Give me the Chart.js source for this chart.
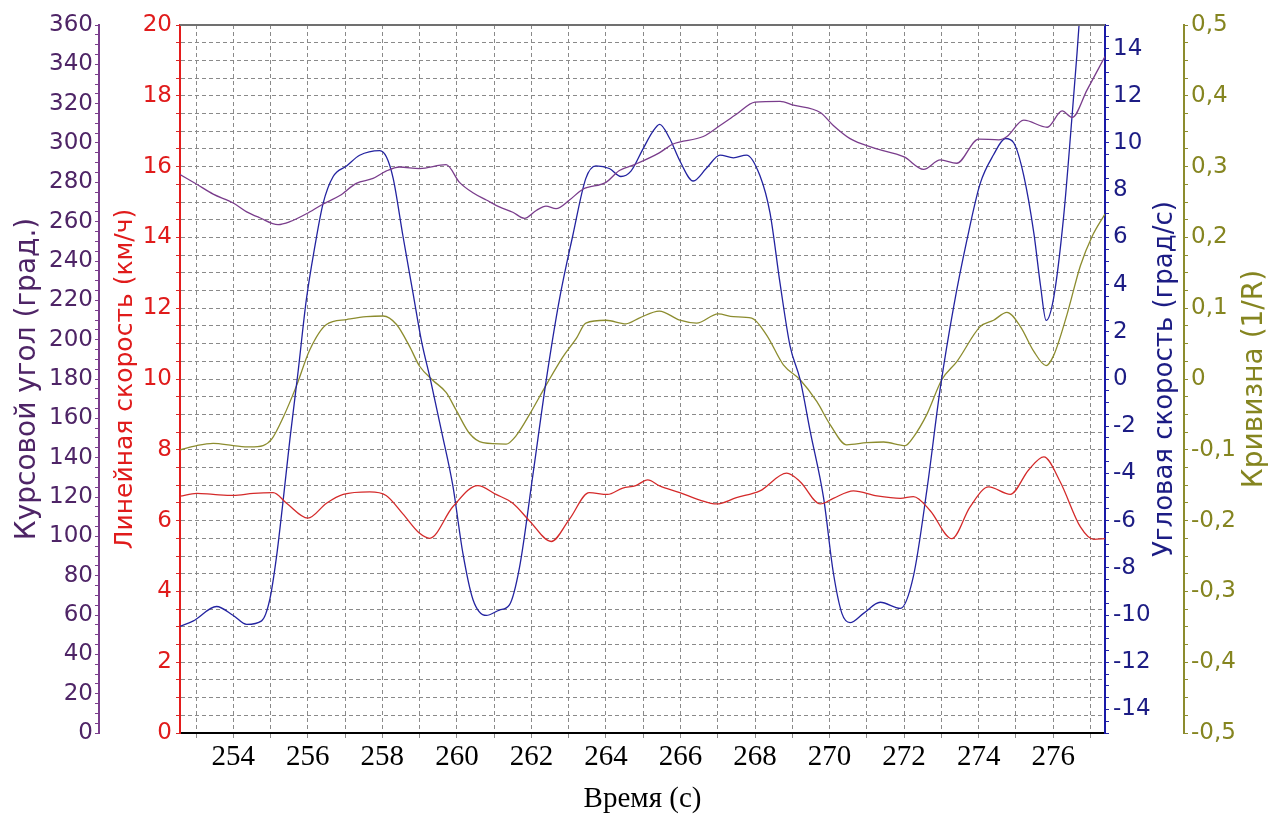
<!DOCTYPE html>
<html>
<head>
<meta charset="utf-8">
<script src="https://cdn.jsdelivr.net/npm/chart.js@4"></script>
<style>
  html,body{margin:0;padding:0;background:#fff}
  #wrap{width:1275px;height:814px}
</style>
</head>
<body>
<div id="wrap"><canvas id="ch"></canvas></div>
<script>
// ---- data ----
const tCourse=[252.57,253.02,253.46,254.0,254.36,254.71,255.2,255.52,255.96,256.41,256.86,257.3,257.75,258.1,258.46,259.0,259.71,260.07,260.43,260.79,261.14,261.5,261.81,262.13,262.39,262.66,263.02,263.38,264.0,264.36,264.8,265.43,265.8,266.61,267.06,267.5,268.0,268.67,269.03,269.75,270.1,270.55,271.18,272.0,272.52,272.97,273.41,274.0,274.54,274.76,275.21,275.84,276.24,276.51,276.91,277.39];
const course=[284,279,274,269.5,265,262,258.5,260,264,269,273.3,279.5,282,285.7,287.8,287,289,280,274.7,271,267.5,264.8,261.7,265.7,267.9,266.6,271,276.5,280,286,289.3,295,299.5,303.3,308.9,314.6,320.8,321.2,319.3,315.5,308.9,302.2,297.5,292.9,286.6,291.4,289.7,302,301.6,303.3,311.6,308,316.3,313,327,344];

const tSpeed=[252.57,253.02,253.46,254.0,254.54,255.07,255.43,256.0,256.5,256.95,257.66,258.1,258.55,259.0,259.27,259.89,260.56,261.05,261.5,261.95,262.53,263.02,263.55,264.04,264.45,264.8,265.12,265.44,265.98,266.52,266.97,267.5,268.13,268.85,269.21,269.75,270.1,270.64,271.27,271.9,272.25,272.7,273.28,273.77,274.27,274.85,275.34,275.75,276.19,276.73,277.09,277.39];
const speed=[6.69,6.77,6.74,6.71,6.77,6.79,6.49,6.07,6.49,6.74,6.81,6.71,6.19,5.64,5.5,6.39,6.99,6.74,6.49,5.99,5.41,6.04,6.79,6.74,6.92,6.99,7.15,6.98,6.79,6.58,6.47,6.65,6.84,7.34,7.1,6.47,6.63,6.84,6.7,6.63,6.68,6.28,5.49,6.39,6.95,6.74,7.43,7.8,7.09,5.82,5.47,5.49];

const tRate=[252.57,252.93,253.55,254.0,254.36,254.76,254.98,255.16,255.34,255.52,255.74,255.96,256.19,256.41,256.68,257.04,257.39,257.93,258.11,258.29,258.55,258.82,259.05,259.3,259.6,259.89,260.16,260.43,260.79,261.14,261.41,261.68,262.04,262.39,262.75,263.11,263.46,263.73,264.09,264.4,264.67,264.98,265.25,265.44,265.71,265.98,266.34,266.7,267.06,267.42,267.77,268.13,268.4,268.67,268.94,269.21,269.48,269.84,270.1,270.33,270.55,270.91,271.36,271.9,272.25,272.61,272.97,273.33,273.68,274.04,274.4,274.72,274.94,275.21,275.48,275.66,275.81,276.01,276.28,276.51,276.64,276.9,277.15];
const rate=[-10.48,-10.25,-9.64,-10.02,-10.4,-10.25,-9.34,-7.53,-5.11,-2.54,0.33,3.36,5.63,7.44,8.58,9.03,9.48,9.68,9.41,8.5,6.08,3.66,1.6,-0.1,-2.3,-4.51,-7.38,-9.34,-10.02,-9.79,-9.57,-7.98,-4.05,-0.12,3.36,6.08,8.5,9.03,8.92,8.58,8.81,9.71,10.47,10.79,10.19,9.25,8.39,8.94,9.49,9.37,9.49,8.62,7.05,4.06,1.39,-0.03,-2.22,-5.05,-8.2,-9.93,-10.32,-9.93,-9.46,-9.72,-8.35,-4.71,-0.39,3.07,5.85,8.28,9.5,10.19,10.01,8.62,6.19,3.95,2.48,3.42,6.88,11.22,13.82,19.5,24];

const tCurv=[252.57,253.02,253.46,254.0,254.45,254.8,255.03,255.34,255.7,256.05,256.5,257.04,257.57,258.02,258.38,258.73,259.0,259.36,259.71,259.98,260.34,260.7,261.32,261.59,261.95,262.39,262.84,263.2,263.46,264.0,264.54,264.89,265.43,265.98,266.43,267.01,267.42,267.91,268.31,268.76,269.21,269.66,270.01,270.46,271.0,271.45,272.03,272.25,272.61,273.01,273.42,274.04,274.4,274.76,275.12,275.48,275.81,276.01,276.37,276.73,277.04,277.39];
const curv=[-0.1,-0.094,-0.091,-0.094,-0.096,-0.094,-0.085,-0.054,-0.009,0.041,0.077,0.084,0.088,0.089,0.077,0.046,0.018,-0.002,-0.019,-0.044,-0.077,-0.09,-0.092,-0.08,-0.05,-0.009,0.031,0.057,0.079,0.083,0.078,0.086,0.096,0.083,0.079,0.092,0.088,0.086,0.062,0.02,-0.001,-0.032,-0.064,-0.093,-0.09,-0.089,-0.094,-0.082,-0.05,-0.001,0.025,0.074,0.083,0.094,0.074,0.039,0.019,0.033,0.091,0.16,0.201,0.233];

const timeLabels=[254,256,258,260,262,264,266,268,270,272,274,276];
const courseLabels=[0,20,40,60,80,100,120,140,160,180,200,220,240,260,280,300,320,340,360];
const speedLabels=[0,2,4,6,8,10,12,14,16,18,20];
const rateLabels=[-14,-12,-10,-8,-6,-4,-2,0,2,4,6,8,10,12,14];
const curvLabels=[-0.5,-0.4,-0.3,-0.2,-0.1,0,0.1,0.2,0.3,0.4,0.5];

const C_PURPLE='#7a3d8c', C_PURPLE_T='#4e2466';
const C_RED='#d42a2a', C_RED_T='#e01b1b';
const C_BLUE='#2323a0', C_BLUE_T='#1c1c84';
const C_OLIVE='#8c8c2e', C_OLIVE_T='#858520';
const GRID='#8a8a8a';

function steps(from,to,step){const out=[];const n=Math.round((to-from)/step);for(let i=0;i<=n;i++)out.push(+(from+i*step).toFixed(4));return out}
function hasLabel(list,v){return list.some(l=>Math.abs(l-v)<1e-6)}
function pts(ts,vs){return ts.map((t,i)=>({x:t,y:vs[i]}))}

const sans={family:'"DejaVu Sans", sans-serif',size:23};
const titleFont={family:'"DejaVu Sans", sans-serif',size:25,lineHeight:1};

// right-hand titles read bottom-to-top, plus solid top frame line
const extras={
  id:'extras',
  afterDraw(chart){
    const c=chart.ctx, a=chart.chartArea;
    c.save();
    c.strokeStyle='#707070';c.lineWidth=2;
    c.beginPath();c.moveTo(a.left,a.top);c.lineTo(a.right,a.top);c.stroke();
    c.textAlign='center';c.textBaseline='middle';
    const yc=(a.top+a.bottom)/2;
    const sw=chart.scales.yRate, so=chart.scales.yCurv;
    [[sw.right-19,'Угловая скорость (град/с)',C_BLUE_T,26],[so.right-20,'Кривизна (1/R)',C_OLIVE_T,28]].forEach(([x,txt,col,fs])=>{
      c.save();c.font=fs+'px "DejaVu Sans", sans-serif';c.translate(x,yc);c.rotate(-Math.PI/2);c.fillStyle=col;c.fillText(txt,0,0);c.restore();
    });
    c.restore();
  }
};

function line(label,data,color,axis){
  return {label,data,yAxisID:axis,borderColor:color,borderWidth:1.3,pointRadius:0,fill:false,cubicInterpolationMode:'monotone'};
}

new Chart(document.getElementById('ch'),{
  type:'line',
  data:{datasets:[
    line('Курсовой угол',pts(tCourse,course),C_PURPLE,'yCourse'),
    line('Линейная скорость',pts(tSpeed,speed),C_RED,'ySpeed'),
    line('Угловая скорость',pts(tRate,rate),C_BLUE,'yRate'),
    line('Кривизна',pts(tCurv,curv),C_OLIVE,'yCurv')
  ]},
  options:{
    responsive:true,maintainAspectRatio:false,animation:false,
    layout:{padding:{top:25,left:0,right:0,bottom:0}},
    plugins:{legend:{display:false},tooltip:{enabled:false}},
    scales:{
      x:{type:'linear',min:252.57,max:277.39,
        afterBuildTicks:s=>{s.ticks=steps(253,277,1).map(v=>({value:v}))},
        afterFit:s=>{s.height=81},
        grid:{color:GRID,tickLength:5,tickColor:GRID},
        border:{display:true,color:'#000',width:2,dash:[4,3]},
        ticks:{autoSkip:false,maxRotation:0,padding:2,color:'#000',font:{family:'"Liberation Serif", serif',size:29},
          callback:v=>hasLabel(timeLabels,v)?String(v):''},
        title:{display:true,text:'Время (с)',color:'#000',font:{family:'"Liberation Serif", serif',size:29,lineHeight:1},padding:{top:0,bottom:0}}
      },
      yCourse:{position:'left',weight:1,min:0,max:360,
        afterBuildTicks:s=>{s.ticks=steps(0,360,5).map(v=>({value:v}))},
        afterFit:s=>{s.width=99},
        grid:{drawOnChartArea:false,color:C_PURPLE,tickLength:4},
        border:{color:C_PURPLE,width:2},
        ticks:{autoSkip:false,padding:2,color:C_PURPLE_T,font:sans,callback:v=>hasLabel(courseLabels,v)?String(v):''},
        title:{display:true,text:'Курсовой угол (град.)',color:C_PURPLE_T,font:{family:'"DejaVu Sans", sans-serif',size:28,lineHeight:1},padding:{top:14,bottom:0}}
      },
      ySpeed:{position:'left',weight:0,min:0,max:20,
        afterBuildTicks:s=>{s.ticks=steps(0,20,0.5).map(v=>({value:v}))},
        afterFit:s=>{s.width=81},
        grid:{color:GRID,tickLength:4,tickColor:C_RED},
        border:{color:'#e41c1c',width:2,dash:[4,3]},
        ticks:{autoSkip:false,padding:4,color:C_RED_T,font:sans,callback:v=>hasLabel(speedLabels,v)?String(v):''},
        title:{display:true,text:'Линейная скорость (км/ч)',color:C_RED_T,font:titleFont,padding:{top:14,bottom:0}}
      },
      yRate:{position:'right',weight:0,min:-15,max:15,
        afterBuildTicks:s=>{s.ticks=steps(-15,15,0.5).map(v=>({value:v}))},
        afterFit:s=>{s.width=79},
        grid:{drawOnChartArea:false,color:C_BLUE,tickLength:4},
        border:{color:'#1a1aa8',width:2},
        ticks:{autoSkip:false,padding:4,color:C_BLUE_T,font:sans,callback:v=>hasLabel(rateLabels,v)?String(v):''}
      },
      yCurv:{position:'right',weight:1,min:-0.5,max:0.5,
        afterBuildTicks:s=>{s.ticks=steps(-0.5,0.5,0.025).map(v=>({value:v}))},
        afterFit:s=>{s.width=91},
        grid:{drawOnChartArea:false,color:C_OLIVE,tickLength:4},
        border:{color:C_OLIVE,width:2},
        ticks:{autoSkip:false,padding:3,color:C_OLIVE_T,font:sans,
          callback:v=>hasLabel(curvLabels,v)?(Math.abs(v)<1e-9?'0':v.toFixed(1).replace('.',',')):''}
      }
    }
  },
  plugins:[extras]
});
</script>
</body>
</html>
